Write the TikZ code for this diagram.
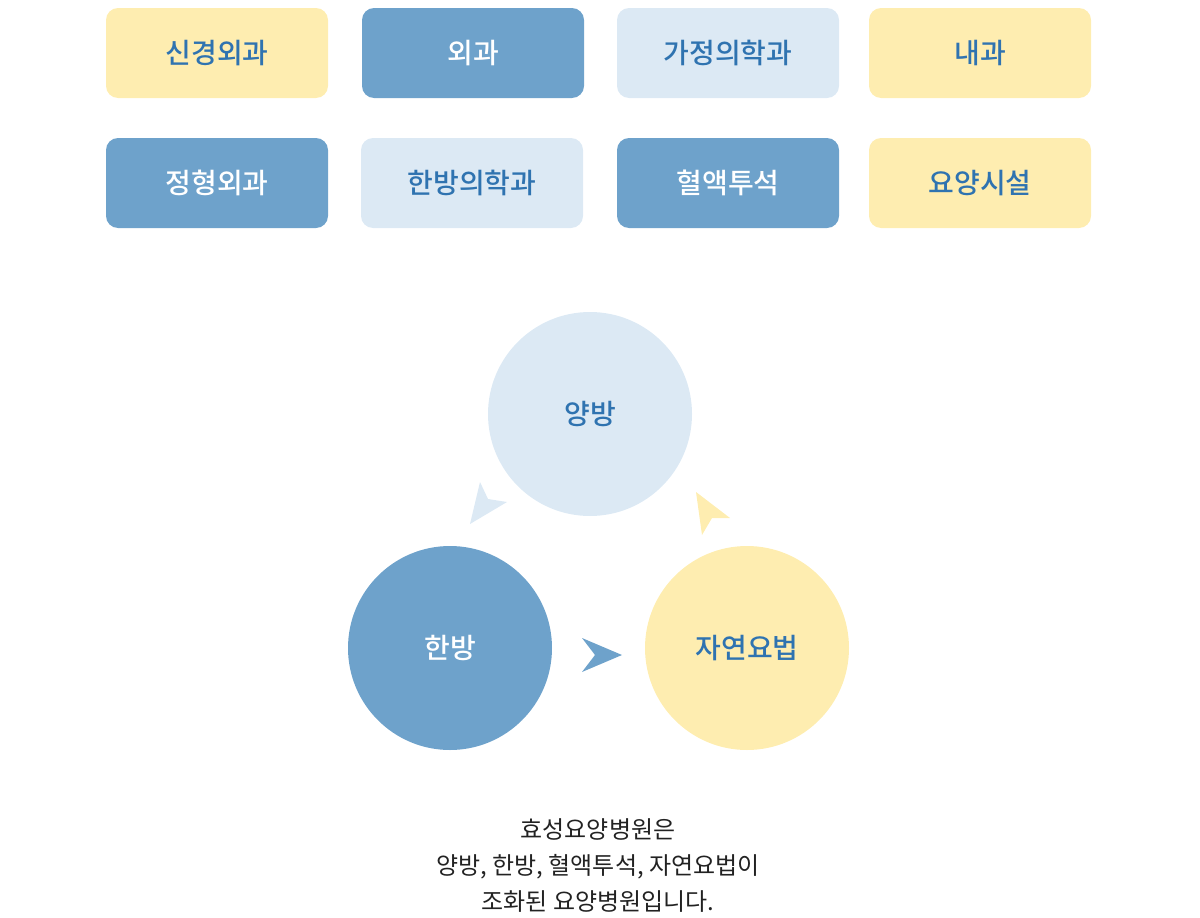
\documentclass[tikz,border=0pt]{standalone}
\usepackage{fontspec}
\newfontfamily\kr{Noto Sans CJK KR}
\newfontfamily\krb{Noto Sans CJK KR Medium}
\definecolor{cyellow}{HTML}{FEEDB0}
\definecolor{cmid}{HTML}{6EA2CB}
\definecolor{clight}{HTML}{DCE9F4}
\definecolor{ctext}{HTML}{2F73B0}
\definecolor{cdark}{HTML}{222222}
\begin{document}
\begin{tikzpicture}[
        x=1pt, y=-1pt,
        dept/.style={rounded corners=12pt, minimum width=222pt, minimum height=90pt,
                inner sep=0pt, font=\krb\fontsize{28}{32}\selectfont}, % 과 상자
        yel/.style={dept, fill=cyellow, text=ctext},
        mid/.style={dept, fill=cmid, text=white},
        lig/.style={dept, fill=clight, text=ctext},
        ball/.style={circle, minimum size=204pt, inner sep=0pt,
                font=\krb\fontsize{28}{32}\selectfont},
        note/.style={font=\kr\fontsize{24}{36}\selectfont, text=cdark, align=center},
    ]
    \useasboundingbox (0,0) rectangle (1200,918);

    % 윗줄
    \node[yel] (sg) at (217,53) {신경외과};
    \node[mid] (og) at (473,53) {외과};
    \node[lig] (gj) at (728,53) {가정의학과};
    \node[yel] (ng) at (980,53) {내과};
    % 아랫줄
    \node[mid] (jh) at (217,183) {정형외과};
    \node[lig] (hb) at (472,183) {한방의학과};
    \node[mid] (hy) at (728,183) {혈액투석};
    \node[yel] (ys) at (980,183) {요양시설};

    % 세 원
    \node[ball, fill=clight, text=ctext] (yb) at (590,414) {양방};
    \node[ball, fill=cmid, text=white] (hbg) at (450,648) {한방};
    \node[ball, fill=cyellow, text=ctext] (jy) at (747,648) {자연요법};

    % 화살촉
    \fill[clight] (470,524) -- (480,482) -- (488,499) -- (507,502) -- cycle;
    \fill[cyellow] (696,492) -- (730,518) -- (712,518) -- (702,535) -- cycle;
    \fill[cmid] (622,655) -- (582,638) -- (595,655) -- (582,672) -- cycle;

    \node[note] (txt) at (598,866) {효성요양병원은\\양방, 한방, 혈액투석, 자연요법이\\조화된 요양병원입니다.};
\end{tikzpicture}
\end{document}
